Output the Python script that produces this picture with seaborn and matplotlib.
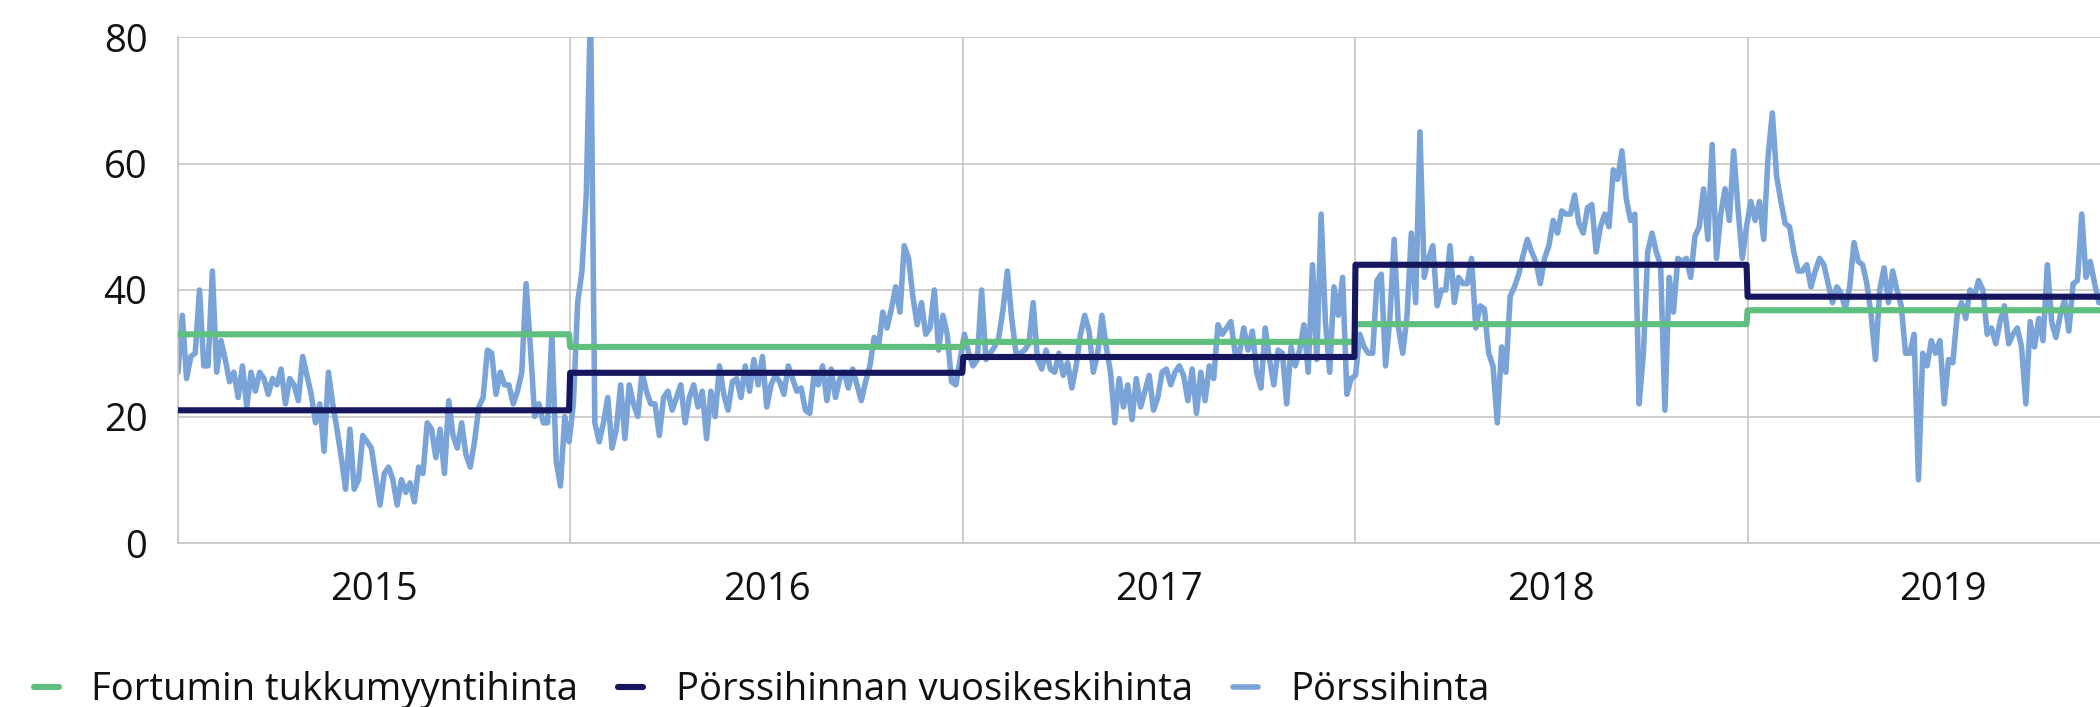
"""Fortum wholesale price vs. Nord Pool spot price, 2015-2019."""

import matplotlib

matplotlib.use("Agg")
import matplotlib.dates as mdates
import matplotlib.pyplot as plt
import pandas as pd
import seaborn as sns
from matplotlib.ticker import NullFormatter

GREEN = "#5ebf7e"
NAVY = "#15165e"
BLUE = "#7aa3d7"
GRID = "#c9c5c0"
TEXT = "#111111"
FONT_SIZE = 27.5

years = [2015, 2016, 2017, 2018, 2019]
fortum_price = [33.0, 31.0, 31.8, 34.6, 36.8]
annual_avg = [20.98, 26.91, 29.41, 43.99, 38.94]

# spot price, one value every 4 days from 2015-01-01
spot_price = [
    27, 36, 26, 29.5, 30, 40, 28, 28, 43, 27,
    32, 29, 25.5, 27, 23, 28, 21.5, 27, 24, 27,
    26, 23.5, 26, 25, 27.5, 22, 26, 25, 22.5, 29.5,
    26.5, 23.5, 19, 22, 14.5, 27, 22, 18, 13.5, 8.5,
    18, 8.5, 10, 17, 16,
    15, 10.5, 6, 11, 12, 10, 6, 10, 8, 9.5,
    6.5, 12, 11, 19, 18, 13.5, 18, 11, 22.5, 17,
    15, 19, 14, 12, 16, 21.5, 23, 30.5, 30, 23.5,
    27, 25, 25, 22, 24, 27, 41, 31, 20, 22,
    19, 19, 33, 13, 9, 20,
    16, 22, 38, 43, 55, 85, 19, 16, 19, 23,
    15, 18, 25, 16.5, 25, 22, 20, 27, 24, 22,
    22, 17, 23, 24, 21, 23, 25, 19, 23, 25,
    21.5, 24, 16.5, 24, 20, 28, 23.5, 21, 25.5, 26,
    23, 28, 24, 29, 25,
    29.5, 21.5, 25, 26.5, 25.5, 23.5, 28, 26, 24, 24.5,
    21, 20.5, 26.5, 25, 28, 22.5, 27.5, 23, 26, 27,
    24.5, 27.5, 25, 22.5, 25.5, 28, 32.5, 31, 36.5, 34,
    37, 40.5, 36.5, 47, 45, 39, 34.5, 38, 33, 34,
    40, 30.5, 36, 33, 25.5,
    25, 29, 33, 30, 28, 29, 40, 29, 30, 31,
    32.5, 37, 43, 35.5, 30, 30, 30.5, 31.5, 38, 29,
    27.5, 30.5, 27.5, 27, 30, 26.5, 28.5, 24.5, 28, 33,
    36, 33.5, 27, 30, 36, 31, 27, 19, 26, 21.5,
    25, 19.5, 26, 21.5, 24, 26.5,
    21, 23, 27, 27.5, 25, 27, 28, 26.5, 22.5, 27.5,
    20.5, 27, 22.5, 28, 26, 34.5, 33, 34, 35, 30,
    30, 34, 30.5, 33.5, 27, 24.5, 34, 29, 25, 30.5,
    30, 22, 31, 28, 30.5, 34.5, 27, 44, 29, 52,
    35, 27, 40.5, 36, 42,
    23.5, 26, 26.5, 33, 31, 30, 30, 41.5, 42.5, 28,
    35.5, 48, 34, 30, 36, 49, 38, 65, 42, 45,
    47, 37.5, 40, 40, 47, 38, 42, 41, 41, 45,
    34, 37.5, 37, 30, 28, 19, 31, 27, 39, 40.5,
    42.5, 45.5, 48, 46, 44.5,
    41, 45, 47, 51, 49, 52.5, 52, 52, 55, 50.5,
    49, 53, 53.5, 46, 50, 52, 50, 59, 57.5, 62,
    54.5, 51, 52, 22, 30, 46, 49, 46, 44, 21,
    42, 36.5, 45, 44.5, 45, 42, 48.5, 50, 56, 48,
    63, 45, 52, 56, 51, 62,
    53, 45, 50, 54, 51, 54, 48, 61, 68, 58,
    54, 50.5, 50, 46, 43, 43, 44, 40.5, 43, 45,
    44, 41, 38, 40.5, 39.5, 37, 40.5, 47.5, 44.5, 44,
    41, 36, 29, 40, 43.5, 38, 43, 40, 37.5, 30,
    30, 33, 10, 30, 28,
    32, 30, 32, 22, 29, 28.5, 36, 38, 35.5, 40,
    39, 41.5, 40, 33, 34, 31.5, 35, 37.5, 31.5, 33,
    34, 31, 22, 35, 31, 35.5, 32, 44, 35, 32.5,
    36, 38.5, 33.5, 41, 41.5, 52, 42, 44.5, 41, 38,
]

LABEL_FORTUM = "Fortumin tukkumyyntihinta"
LABEL_AVG = "Pörssihinnan vuosikeskihinta"
LABEL_SPOT = "Pörssihinta"

spot_df = pd.DataFrame(
    {
        "date": pd.date_range("2015-01-01", periods=len(spot_price), freq="4D"),
        "price": spot_price,
    }
)

days = pd.date_range("2015-01-01", "2019-12-31", freq="D")
step_df = pd.DataFrame({"date": days, "year": days.year})
step_df["fortum"] = step_df["year"].map(dict(zip(years, fortum_price)))
step_df["avg"] = step_df["year"].map(dict(zip(years, annual_avg)))

sns.set_style("white")
plt.rcParams["font.family"] = ["Open Sans", "DejaVu Sans"]

fig = plt.figure(figsize=(21, 7.07), dpi=100)
ax = fig.add_axes([178 / 2100, 1 - 543 / 707, 1 - 178 / 2100, (543 - 37) / 707])

sns.lineplot(data=spot_df, x="date", y="price", color=BLUE, linewidth=4.0,
             estimator=None, label=LABEL_SPOT, ax=ax, zorder=2)
sns.lineplot(data=step_df, x="date", y="fortum", color=GREEN, linewidth=4.4,
             estimator=None, label=LABEL_FORTUM, ax=ax, zorder=3)
sns.lineplot(data=step_df, x="date", y="avg", color=NAVY, linewidth=4.4,
             estimator=None, label=LABEL_AVG, ax=ax, zorder=4)

ax.set_xlim(pd.Timestamp("2015-01-01"), pd.Timestamp("2019-11-25"))
ax.set_ylim(0, 80)
ax.set_yticks([0, 20, 40, 60, 80])
ax.set_xlabel("")
ax.set_ylabel("")

ax.xaxis.set_major_locator(mdates.YearLocator())
ax.xaxis.set_major_formatter(NullFormatter())
ax.xaxis.set_minor_locator(mdates.MonthLocator(bymonth=7, bymonthday=2))
ax.xaxis.set_minor_formatter(mdates.DateFormatter("%Y"))

ax.tick_params(axis="x", which="both", length=0, pad=20, labelsize=FONT_SIZE, labelcolor=TEXT)
ax.tick_params(axis="y", length=0, pad=22, labelsize=FONT_SIZE, labelcolor=TEXT)

ax.grid(True, which="major", color=GRID, lw=1.2)
ax.set_axisbelow(True)
for side in ["top", "right"]:
    ax.spines[side].set_visible(False)
for side in ["left", "bottom"]:
    ax.spines[side].set_color(GRID)
    ax.spines[side].set_linewidth(1.2)

handles, labels = ax.get_legend_handles_labels()
ax.get_legend().remove()
order = [1, 2, 0]
fig.legend(
    [handles[i] for i in order],
    [labels[i] for i in order],
    loc="center left",
    bbox_to_anchor=(34 / 2100, 1 - 690 / 707),
    ncol=3,
    frameon=False,
    fontsize=FONT_SIZE,
    handlelength=0.65,
    handletextpad=0.85,
    columnspacing=1.05,
    borderaxespad=0,
    borderpad=0,
    labelcolor=TEXT,
)

fig.savefig("out.png", dpi=100)
